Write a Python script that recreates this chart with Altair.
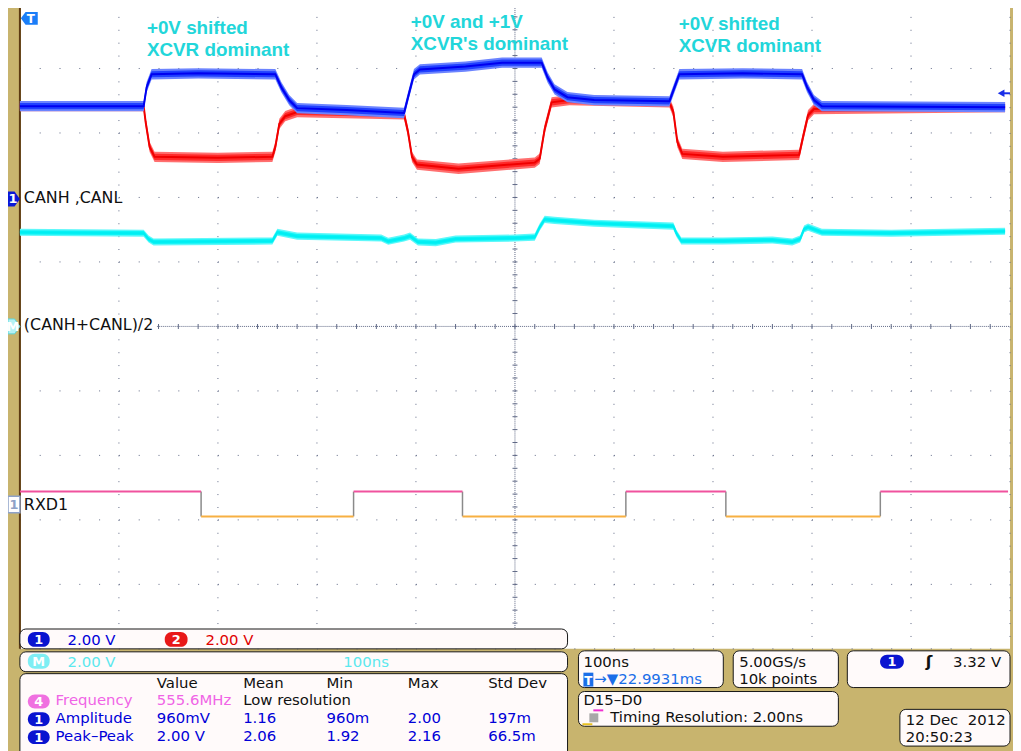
import altair as alt
import pandas as pd

# ---------------- page / layout constants ----------------
OFF = 8                      # page margin of the browser
W, H = 1013, 743             # visible chart size
TAN = "#c8b46e"
GRID = "#5f6885"
PANEL = "#fffafa"
FONT = "DejaVu Sans"

# ---------------- data ----------------
# time in ns (100 ns/div, trigger at 0), voltages in volts
canh_t = [-500, -375, -372, -367, -320, -242, -236, -228, -220, -170, -112, -108, -102, -96, -50,
          -13, 27, 33, 40, 53, 80, 156, 160, 166, 230, 290, 295, 302, 310, 495]
canh_v = [2.83, 2.83, 3.42, 3.82, 3.85, 3.82, 3.42, 3.02, 2.77, 2.71, 2.62, 3.11, 3.82, 3.97, 4.06,
          4.18, 4.18, 3.72, 3.35, 3.11, 3.02, 2.98, 3.32, 3.82, 3.85, 3.82, 3.42, 3.02, 2.83, 2.80]
canl_t = [-500, -375, -373, -369, -364, -300, -245, -242, -238, -232, -220, -112, -108, -104, -99,
          -57, 20, 25, 30, 37, 55, 156, 160, 164, 169, 210, 287, 291, 296, 302, 495]
canl_v = [2.83, 2.83, 2.34, 1.57, 1.26, 1.23, 1.26, 1.57, 2.28, 2.52, 2.65, 2.58, 2.03, 1.26, 1.02,
          0.89, 1.08, 1.20, 2.12, 2.95, 3.02, 2.95, 2.65, 1.72, 1.35, 1.26, 1.32, 1.88, 2.55, 2.74, 2.80]
math_t = [-500, -375, -370, -365, -245, -240, -220, -135, -128, -112, -106, -98, -80, -60,
          0, 20, 25, 30, 40, 80, 160, 163, 168, 210, 260, 280, 288, 292, 296, 310, 380, 495]
math_v = [2.92, 2.89, 2.71, 2.62, 2.65, 2.92, 2.80, 2.74, 2.64, 2.74, 2.80, 2.62, 2.60, 2.71,
          2.74, 2.77, 3.08, 3.32, 3.29, 3.20, 3.11, 2.89, 2.65, 2.65, 2.68, 2.62, 2.71, 3.02, 3.08,
          2.92, 2.89, 2.95]
noise_v = {"CANH": 0.16, "CANL": 0.16, "M": 0.11}     # half width of the noise band

rxd_edges_t = [-317, -163, -53, 112, 213, 369]
rxd_states = [1, 0, 1, 0, 1, 0, 1]

annot_lines = ["+0V shifted", "XCVR dominant", "+0V and +1V", "XCVR's dominant",
               "+0V shifted", "XCVR dominant"]
ch_labels = ["CANH ,CANL", "(CANH+CANL)/2", "RXD1"]
meas_headers = ["Value", "Mean", "Min", "Max", "Std Dev"]
meas_rows = [
    ["Frequency", "555.6MHz", "Low resolution", "", "", ""],
    ["Amplitude", "960mV", "1.16", "960m", "2.00", "197m"],
    ["Peak\u2013Peak", "2.00 V", "2.06", "1.92", "2.16", "66.5m"],
]
scale_texts = ["2.00 V", "2.00 V", "2.00 V", "100ns"]
horiz_texts = ["100ns", "\u2192\u25bc22.9931ms", "5.00GS/s", "10k points", "3.32 V",
               "D15\u2013D0", "Timing Resolution: 2.00ns", "12 Dec\u00a0 2012", "20:50:23"]

# ---------------- channel styles ----------------
CH = {
    "M":    dict(t=math_t, v=math_v, vdiv=2.0, off=0.0,
                 outer="#5ff8fa", band="#0cf4f6", line="#00eef2"),
    "CANL": dict(t=canl_t, v=canl_v, vdiv=2.0, off=2.0,
                 outer="#ff7070", band="#ff2a2a", line="#f00000"),
    "CANH": dict(t=canh_t, v=canh_v, vdiv=2.0, off=2.0,
                 outer="#6c84ff", band="#2040ff", line="#0000f0"),
}
RXD_LEVEL = {1: -2.5615, 0: -2.946}
RXD_COLOR = {1: "#f0529e", 0: "#f7b042"}

# ---------------- scales ----------------
xs = alt.Scale(domain=[-511 / 0.998, (W - 511) / 0.998], nice=False, zero=False)
ys = alt.Scale(domain=[(318 - H) / 65, 318 / 65], nice=False, zero=False)


def X(f):
    return alt.X(f, type="quantitative", scale=xs, axis=None)


def Y(f):
    return alt.Y(f, type="quantitative", scale=ys, axis=None)


def PX(f):
    return alt.X(f, type="quantitative", scale=None, axis=None)


def PY(f):
    return alt.Y(f, type="quantitative", scale=None, axis=None)


def pxdf(rows, cols):
    df = pd.DataFrame(rows, columns=cols)
    for c in df.columns:
        if c[0] in "xy":
            df[c] = df[c] - OFF
    return df


layers = []

# plot area
bg = pxdf([(21, 1, 1018, 651)], ["x", "y", "x2", "y2"])
layers.append(alt.Chart(bg).mark_rect(color="white").encode(
    x=PX("x"), y=PY("y"), x2="x2", y2="y2"))

# graticule
gv = pd.DataFrame({"t": [-400, -300, -200, -100, 100, 200, 300, 400, 500], "d0": 5, "d1": -5})
layers.append(alt.Chart(gv).mark_rule(color=GRID, strokeWidth=1, strokeDash=[1, 12]).encode(
    x=X("t"), y=Y("d0"), y2="d1"))
gh = pd.DataFrame({"d": [-5, -4, -3, -2, -1, 1, 2, 3, 4], "t0": -500, "t1": 500})
layers.append(alt.Chart(gh).mark_rule(color=GRID, strokeWidth=1, strokeDash=[1, 18.96]).encode(
    x=X("t0"), x2="t1", y=Y("d")))
layers.append(alt.Chart(pd.DataFrame({"t0": [-500], "t1": [500], "d": [0]}))
              .mark_rule(color=GRID, strokeWidth=1, strokeDash=[1, 1])
              .encode(x=X("t0"), x2="t1", y=Y("d")))
layers.append(alt.Chart(pd.DataFrame({"t": [0], "d0": [5], "d1": [-5]}))
              .mark_rule(color=GRID, strokeWidth=1, strokeDash=[1, 1])
              .encode(x=X("t"), y=Y("d0"), y2="d1"))
tick_t = pd.DataFrame({"t": list(range(-480, 481, 20)), "d": 0})
layers.append(alt.Chart(tick_t).mark_tick(orient="vertical", size=5, thickness=1, color=GRID,
                                          opacity=1).encode(x=X("t"), y=Y("d")))
tick_d = pd.DataFrame({"d": [round(-5 + 0.2 * i, 1) for i in range(1, 50)], "t": 0})
layers.append(alt.Chart(tick_d).mark_tick(orient="horizontal", size=5, thickness=1, color=GRID,
                                          opacity=1).encode(x=X("t"), y=Y("d")))
# left border
layers.append(alt.Chart(pxdf([(20, 1, 651)], ["x", "y", "y2"])).mark_rule(
    color="#5c3a12", strokeWidth=2).encode(x=PX("x"), y=PY("y"), y2="y2"))

# RXD1 digital trace
bounds = [-500] + rxd_edges_t + [498]
seg = pd.DataFrame({"t0": bounds[:-1], "t1": bounds[1:], "s": rxd_states})
seg["d"] = seg["s"].map(RXD_LEVEL)
seg["c"] = seg["s"].map(RXD_COLOR)
edges = pd.DataFrame({"t": rxd_edges_t, "d0": RXD_LEVEL[1], "d1": RXD_LEVEL[0]})
layers.append(alt.Chart(edges).mark_rule(color="#8a8a8a", strokeWidth=1.5).encode(
    x=X("t"), y=Y("d0"), y2="d1"))
layers.append(alt.Chart(seg).mark_rule(strokeWidth=2).encode(
    x=X("t0"), x2="t1", y=Y("d"), color=alt.Color("c:N", scale=None)))

# analog traces: light outer noise fringe, saturated inner band, core line
for name in ["M", "CANL", "CANH"]:
    c = CH[name]
    df = pd.DataFrame({"t": c["t"], "v": c["v"]})
    df["d"] = c["off"] + df["v"] / c["vdiv"]
    n = noise_v[name] / c["vdiv"]
    df["lo"] = df["d"] - n
    df["hi"] = df["d"] + n
    df["lo2"] = df["d"] - 0.6 * n
    df["hi2"] = df["d"] + 0.6 * n
    layers.append(alt.Chart(df).mark_area(color=c["outer"], opacity=1).encode(
        x=X("t"), y=Y("lo"), y2="hi"))
    layers.append(alt.Chart(df).mark_area(color=c["band"], opacity=1).encode(
        x=X("t"), y=Y("lo2"), y2="hi2"))
    layers.append(alt.Chart(df).mark_line(color=c["line"], strokeWidth=2).encode(
        x=X("t"), y=Y("d")))

# label backgrounds and channel labels
layers.append(alt.Chart(pxdf([(22, 317, 158, 335)], ["x", "y", "x2", "y2"])).mark_rect(
    color="white").encode(x=PX("x"), y=PY("y"), x2="x2", y2="y2"))
lab = pxdf([(24, 202, ch_labels[0]), (24, 330, ch_labels[1]), (24, 511, ch_labels[2])],
           ["x", "y", "text"])
layers.append(alt.Chart(lab).mark_text(font=FONT, fontSize=16, align="left", baseline="alphabetic",
                                       color="#101010").encode(x=PX("x"), y=PY("y"), text="text:N"))

# left channel badges
PENT_R = "M-1,-1.25L0.1,-1.25L1,0L0.1,1.25L-1,1.25Z"
b1 = pxdf([(14, 197.5)], ["x", "y"])
layers.append(alt.Chart(b1).mark_point(shape=PENT_R, size=144, filled=True, color="#0a18d8",
                                       opacity=1).encode(x=PX("x"), y=PY("y")))
bm = pxdf([(14, 326)], ["x", "y"])
layers.append(alt.Chart(bm).mark_point(shape=PENT_R, size=144, filled=True, fill="#b4f2f4",
                                       stroke="#5ad8e0", strokeWidth=1, opacity=1)
              .encode(x=PX("x"), y=PY("y")))
br = pxdf([(14, 505.5)], ["x", "y"])
layers.append(alt.Chart(br).mark_point(shape="M-1,-1.4L1,-1.4L1,1.4L-1,1.4Z", size=144,
                                       filled=True, fill="white", stroke="#8ea2c8",
                                       strokeWidth=1.5, opacity=1)
              .encode(x=PX("x"), y=PY("y")))
bt = pxdf([(13, 198, "1", "white"), (13, 326.5, "M", "white"), (14, 506, "1", "#8ea2c8")],
          ["x", "y", "text", "c"])
layers.append(alt.Chart(bt).mark_text(font=FONT, fontSize=13, fontWeight="bold", align="center",
                                      baseline="middle").encode(
    x=PX("x"), y=PY("y"), text="text:N", color=alt.Color("c:N", scale=None)))

# trigger badge (top left) and trigger level arrow
tb = pxdf([(29.5, 15.5)], ["x", "y"])
layers.append(alt.Chart(tb).mark_point(shape="M-1,0L-0.45,-0.765L1,-0.765L1,0.765L-0.45,0.765Z",
                                       size=289, filled=True, color="#1a7ef8", opacity=1)
              .encode(x=PX("x"), y=PY("y")))
layers.append(alt.Chart(pxdf([(31, 16, "T")], ["x", "y", "text"])).mark_text(
    font=FONT, fontSize=12, fontWeight="bold", color="white", align="center", baseline="middle")
    .encode(x=PX("x"), y=PY("y"), text="text:N"))
layers.append(alt.Chart(pxdf([(1010, 1018, 91)], ["x", "x2", "y"])).mark_rule(
    color="#1a2ee8", strokeWidth=2).encode(x=PX("x"), x2="x2", y=PY("y")))
layers.append(alt.Chart(pxdf([(1009, 91)], ["x", "y"])).mark_point(
    shape="triangle-left", size=60, filled=True, color="#1a2ee8", opacity=1)
    .encode(x=PX("x"), y=PY("y")))

# annotations
ann = pxdf([(148, 31, annot_lines[0]), (148, 53, annot_lines[1]),
            (414, 25, annot_lines[2]), (414, 47, annot_lines[3]),
            (684, 27, annot_lines[4]), (684, 49, annot_lines[5])], ["x", "y", "text"])
layers.append(alt.Chart(ann).mark_text(font="Liberation Sans", fontSize=19, fontWeight="bold",
                                       align="left", baseline="alphabetic", color="#22d6da")
              .encode(x=PX("x"), y=PY("y"), text="text:N"))

# readout panels
panels = pxdf([(20, 631, 572, 651), (20, 654, 572, 674), (20, 676, 572, 760),
               (583, 653, 729, 690), (739, 653, 845, 690), (854, 653, 1018, 690),
               (583, 694, 845, 729), (907, 712, 1018, 749)], ["x", "y", "x2", "y2"])
layers.append(alt.Chart(panels).mark_rect(fill=PANEL, stroke="#151515", strokeWidth=1,
                                          cornerRadius=6).encode(
    x=PX("x"), y=PY("y"), x2="x2", y2="y2"))

BLUE_B, BLUE_T = "#0a14d0", "#0000d8"
RED_B, RED_T = "#e81818", "#e00000"
MAG_B, MAG_T = "#f070e0", "#f064e6"
CYA_B, CYA_T = "#7eeef4", "#5ce8ee"
TBLUE = "#1a6ee8"

pills = pxdf([(28, 634, 50, 649, "1", BLUE_B), (166, 634, 189, 649, "2", RED_B),
              (28, 656, 50, 671, "M", CYA_B), (28, 697, 50, 711, "4", MAG_B),
              (28, 715, 50, 729, "1", BLUE_B), (28, 733, 50, 747, "1", BLUE_B),
              (887, 657, 911, 671, "1", BLUE_B)], ["x", "y", "x2", "y2", "text", "c"])
layers.append(alt.Chart(pills).mark_rect(cornerRadius=7).encode(
    x=PX("x"), y=PY("y"), x2="x2", y2="y2", color=alt.Color("c:N", scale=None)))
pills["xc"] = (pills["x"] + pills["x2"]) / 2
pills["yc"] = (pills["y"] + pills["y2"]) / 2 + 0.5
layers.append(alt.Chart(pills).mark_text(font=FONT, fontSize=13, fontWeight="bold", color="white",
                                         align="center", baseline="middle").encode(
    x=PX("xc"), y=PY("yc"), text="text:N"))

# small glyph boxes (T marker, timing-resolution icon)
boxes = pxdf([(588, 675, 598, 689, TBLUE), (594, 716, 603, 725, "#a8a8a8"),
              (598, 712, 608, 714, "#f030d0"), (587, 726, 597, 728, "#e8c020")],
             ["x", "y", "x2", "y2", "c"])
layers.append(alt.Chart(boxes).mark_rect().encode(
    x=PX("x"), y=PY("y"), x2="x2", y2="y2", color=alt.Color("c:N", scale=None)))
layers.append(alt.Chart(pxdf([(593, 683, "T")], ["x", "y", "text"])).mark_text(
    font=FONT, fontSize=12, fontWeight="bold", color="white", align="center", baseline="middle")
    .encode(x=PX("x"), y=PY("y"), text="text:N"))

# readout texts
col_x = [56, 158, 245, 329, 411, 492]
row_y = [708, 726, 744]
row_c = [[MAG_T, MAG_T, "#101010", "#101010", "#101010", "#101010"],
         [BLUE_T] * 6, [BLUE_T] * 6]
txt = [(68, 647, scale_texts[0], BLUE_T), (207, 647, scale_texts[1], RED_T),
       (68, 669, scale_texts[2], CYA_T), (346, 669, scale_texts[3], CYA_T)]
for h, xx in zip(meas_headers, col_x[1:]):
    txt.append((xx, 690, h, "#101010"))
for r, yy, cols in zip(meas_rows, row_y, row_c):
    for s, xx, cc in zip(r, col_x, cols):
        if s:
            txt.append((xx, yy, s, cc))
txt += [(588, 669, horiz_texts[0], "#101010"), (599, 686, horiz_texts[1], TBLUE),
        (745, 669, horiz_texts[2], "#101010"), (745, 686, horiz_texts[3], "#101010"),
        (588, 708, horiz_texts[5], "#101010"), (615, 725, horiz_texts[6], "#101010"),
        (913, 728, horiz_texts[7], "#101010"), (913, 745, horiz_texts[8], "#101010")]
tdf = pxdf(txt, ["x", "y", "text", "c"])
layers.append(alt.Chart(tdf).mark_text(font=FONT, fontSize=15, align="left",
                                       baseline="alphabetic").encode(
    x=PX("x"), y=PY("y"), text="text:N", color=alt.Color("c:N", scale=None)))
layers.append(alt.Chart(pxdf([(1009, 669, horiz_texts[4])], ["x", "y", "text"])).mark_text(
    font=FONT, fontSize=15, align="right", baseline="alphabetic", color="#101010")
    .encode(x=PX("x"), y=PY("y"), text="text:N"))
layers.append(alt.Chart(pxdf([(933, 669, "\u0283")], ["x", "y", "text"])).mark_text(
    font=FONT, fontSize=16, fontWeight="bold", align="left", baseline="alphabetic",
    color="#101010").encode(x=PX("x"), y=PY("y"), text="text:N"))

chart = alt.layer(*layers).properties(
    width=W, height=H, background=TAN, padding=0,
    autosize=alt.AutoSizeParams(type="none"),
).configure_view(strokeWidth=0)

chart.save("out.html", embed_options={"renderer": "svg", "actions": False})
